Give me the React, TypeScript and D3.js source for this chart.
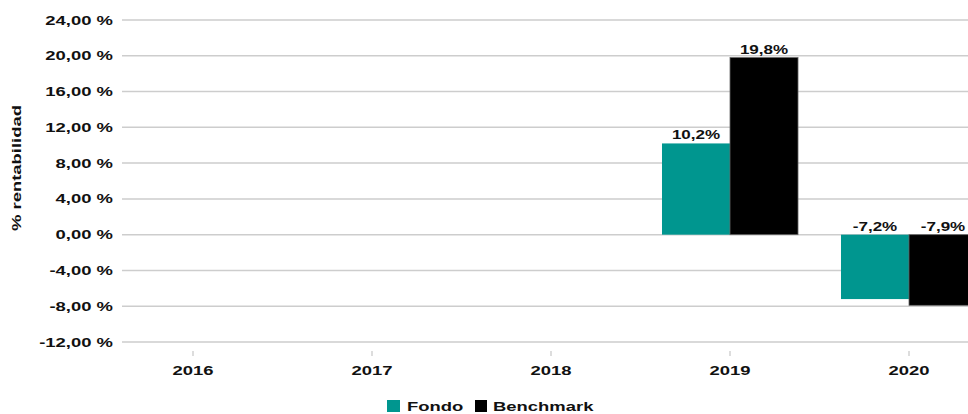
import React from "react";
import * as d3 from "d3";

const years = ["2016", "2017", "2018", "2019", "2020"];
const seriesNames = ["Fondo", "Benchmark"];
const fondo: (number | null)[] = [null, null, null, 10.2, -7.2];
const benchmark: (number | null)[] = [null, null, null, 19.8, -7.9];
const yTicks = [-12, -8, -4, 0, 4, 8, 12, 16, 20, 24];
const colors = ["#00968f", "#000000"];

const W = 968;
const H = 414;
const FONT = "'Liberation Sans', Arial, sans-serif";
const SX = 1.42;

function SText({ x, y, anchor, size, children, rotate }: any) {
  const tr = rotate
    ? `translate(${x},${y}) rotate(-90) scale(${SX},1)`
    : `translate(${x},${y}) scale(${SX},1)`;
  return (
    <text
      transform={tr}
      textAnchor={anchor}
      fontFamily={FONT}
      fontWeight="bold"
      fontSize={size}
      fill="#111"
    >
      {children}
    </text>
  );
}

const fmtTick = (v: number) =>
  d3.format(".2f")(v).replace(".", ",").replace("\u2212", "-") + " %";
const fmtVal = (v: number) =>
  d3.format(".1f")(v).replace(".", ",").replace("\u2212", "-") + "%";

export default function App() {
  const y = d3.scaleLinear().domain([-12, 24]).range([342, 20]);
  const x = d3.scaleBand<string>().domain(years).range([103.5, 998.5]).padding(0);
  const xi = d3
    .scaleBand<string>()
    .domain(seriesNames)
    .range([0, x.bandwidth()])
    .paddingInner(0)
    .paddingOuter(0.316);
  const data = [fondo, benchmark];

  return (
    <svg
      width={W}
      height={H}
      style={{ position: "absolute", left: 0, top: 0, background: "#fff" }}
    >
      {yTicks.map((t) => (
        <g key={t}>
          <line x1={122} x2={W} y1={y(t)} y2={y(t)} stroke="#cdcdcd" strokeWidth={1.5} />
          <SText x={113} y={y(t) + 4.5} anchor="end" size={13}>
            {fmtTick(t)}
          </SText>
        </g>
      ))}
      <SText x={21} y={168} anchor="middle" size={13} rotate>
        % rentabilidad
      </SText>
      {years.map((yr) => {
        const cx = (x(yr) as number) + x.bandwidth() / 2;
        return (
          <g key={yr}>
            <line x1={cx} x2={cx} y1={351} y2={356} stroke="#bbb" strokeWidth={1} />
            <SText x={cx} y={375} anchor="middle" size={13}>
              {yr}
            </SText>
          </g>
        );
      })}
      {data.map((arr, si) =>
        arr.map((v, i) => {
          if (v === null) return null;
          const bx = (x(years[i]) as number) + (xi(seriesNames[si]) as number);
          const bw = xi.bandwidth();
          const y0 = y(Math.max(0, v));
          const y1 = y(Math.min(0, v));
          const labelY = v >= 0 ? y(v) - 4 : y(0) - 4;
          return (
            <g key={si + "-" + i}>
              <rect
                x={bx}
                y={y0}
                width={bw}
                height={y1 - y0}
                fill={colors[si]}
                stroke={si === 1 ? "#666" : "none"}
                strokeWidth={0.8}
              />
              <SText x={bx + bw / 2} y={labelY} anchor="middle" size={12}>
                {fmtVal(v)}
              </SText>
            </g>
          );
        })
      )}
      <rect x={387} y={400} width={13} height={12} fill={colors[0]} />
      <SText x={407} y={411} anchor="start" size={13}>
        {seriesNames[0]}
      </SText>
      <rect x={475} y={400} width={12} height={12} fill={colors[1]} />
      <SText x={493} y={411} anchor="start" size={13}>
        {seriesNames[1]}
      </SText>
    </svg>
  );
}
